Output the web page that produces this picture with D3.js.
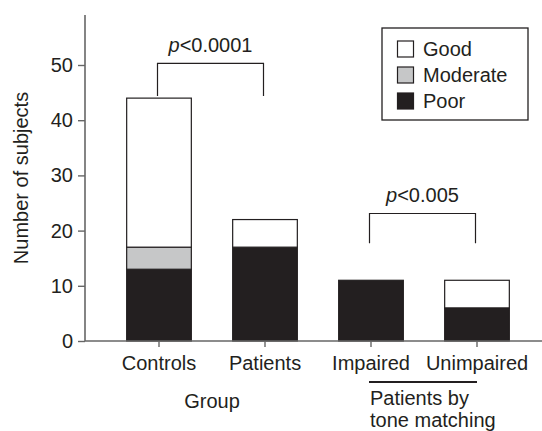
<!DOCTYPE html>
<html>
<head>
<meta charset="utf-8">
<script src="https://cdn.jsdelivr.net/npm/d3@7"></script>
<style>
  body { margin: 0; background: #fff; }
  svg { display: block; font-family: "Liberation Sans", Arial, Helvetica, sans-serif; }
</style>
</head>
<body>
<svg id="chart" width="542" height="431"></svg>
<script>
// ---- data ----
const categories = ["Controls", "Patients", "Impaired", "Unimpaired"];
const seriesNames = ["Poor", "Moderate", "Good"];
const poor     = [13, 17, 11, 6];
const moderate = [4, 0, 0, 0];
const good     = [27, 5, 0, 5];
const yTicks = [0, 10, 20, 30, 40, 50];
const legendOrder = ["Good", "Moderate", "Poor"];
const brackets = [
  { from: "Controls", to: "Patients", top: 50.3, legL: 44.4, legR: 44.4, label: "0.0001" },
  { from: "Impaired", to: "Unimpaired", top: 23.1, legL: 17.7, legR: 17.7, label: "0.005" }
];

const colors = { Poor: "#231f20", Moderate: "#c6c7c8", Good: "#ffffff" };
const ink = "#231f20";

const svg = d3.select("#chart");

const x = d3.scaleBand().domain(categories).range([106, 530])
  .paddingInner(0.39).paddingOuter(0.195);
const y = d3.scaleLinear().domain([0, 50]).range([341, 65]);

// stacked data
const rows = categories.map((c, i) => ({ cat: c, Poor: poor[i], Moderate: moderate[i], Good: good[i] }));
const stacked = d3.stack().keys(seriesNames)(rows);

const g = svg.append("g");
stacked.forEach(layer => {
  g.selectAll(null).data(layer.filter(d => d[1] > d[0])).enter().append("rect")
    .attr("x", d => x(d.data.cat))
    .attr("width", x.bandwidth())
    .attr("y", d => y(d[1]))
    .attr("height", d => y(d[0]) - y(d[1]))
    .attr("fill", colors[layer.key])
    .attr("stroke", ink)
    .attr("stroke-width", 1.2);
});

// y axis
const yAxis = d3.axisLeft(y).tickValues(yTicks).tickSize(7).tickPadding(5);
const ya = svg.append("g").attr("transform", "translate(85,0)").call(yAxis);
ya.select(".domain").remove();
ya.append("line").attr("x1", 0).attr("x2", 0).attr("y1", 15).attr("y2", 341)
  .attr("stroke", "#666").attr("stroke-width", 1.6);
ya.selectAll(".tick line").attr("stroke", "#666").attr("stroke-width", 1.4);
ya.selectAll(".tick text").attr("font-size", 20).attr("fill", ink)
  .attr("font-family", "Liberation Sans, Arial, sans-serif");

// x axis
const xAxis = d3.axisBottom(x).tickSize(6).tickPadding(9);
const xa = svg.append("g").attr("transform", "translate(0,341)").call(xAxis);
xa.select(".domain").remove();
xa.append("line").attr("x1", 85).attr("x2", 542).attr("y1", 0).attr("y2", 0)
  .attr("stroke", "#666").attr("stroke-width", 1.6);
xa.selectAll(".tick line").attr("stroke", "#666").attr("stroke-width", 1.4);
xa.selectAll(".tick text").attr("font-size", 20).attr("fill", ink)
  .attr("font-family", "Liberation Sans, Arial, sans-serif");

// axis titles
svg.append("text").attr("transform", "translate(28,178) rotate(-90)")
  .attr("text-anchor", "middle").attr("font-size", 20).attr("fill", ink)
  .text("Number of subjects");
svg.append("text").attr("x", (x("Controls") + x("Patients") + x.bandwidth()) / 2).attr("y", 408)
  .attr("text-anchor", "middle").attr("font-size", 20).attr("fill", ink)
  .text("Group");

// patients by tone matching
const cI = x("Impaired") + x.bandwidth() / 2, cU = x("Unimpaired") + x.bandwidth() / 2;
svg.append("line").attr("x1", cI - 2).attr("x2", cU).attr("y1", 382).attr("y2", 382)
  .attr("stroke", ink).attr("stroke-width", 2.2);
svg.append("text").attr("x", cI - 1).attr("y", 405).attr("font-size", 20).attr("fill", ink)
  .text("Patients by");
svg.append("text").attr("x", cI - 1).attr("y", 427).attr("font-size", 20).attr("fill", ink)
  .text("tone matching");

// brackets
brackets.forEach(b => {
  const x1 = x(b.from) + x.bandwidth() / 2 - 1.5;
  const x2 = x(b.to) + x.bandwidth() / 2 - 1.5;
  svg.append("path")
    .attr("d", `M${x1},${y(b.legL)}V${y(b.top)}H${x2}V${y(b.legR)}`)
    .attr("fill", "none").attr("stroke", ink).attr("stroke-width", 1.2);
  const t = svg.append("text").attr("x", (x1 + x2) / 2).attr("y", y(b.top) - 11)
    .attr("text-anchor", "middle").attr("font-size", 20).attr("fill", ink);
  t.append("tspan").attr("font-style", "italic").text("p");
  t.append("tspan").text("<" + b.label);
});

// legend
const lg = svg.append("g");
lg.append("rect").attr("x", 382).attr("y", 28).attr("width", 146).attr("height", 92)
  .attr("fill", "#fff").attr("stroke", ink).attr("stroke-width", 1.3);
legendOrder.forEach((k, i) => {
  const top = 41 + i * 26;
  lg.append("rect").attr("x", 397.5).attr("y", top).attr("width", 16).attr("height", 16)
    .attr("fill", colors[k]).attr("stroke", ink).attr("stroke-width", 1.2);
  lg.append("text").attr("x", 423).attr("y", top + 15).attr("font-size", 20).attr("fill", ink)
    .text(k);
});
</script>
</body>
</html>
